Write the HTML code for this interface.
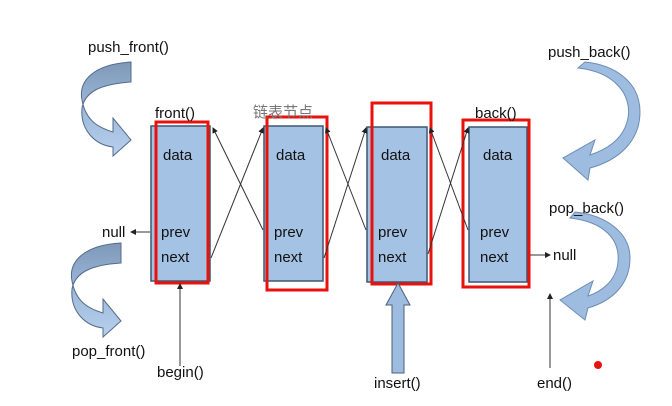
<!DOCTYPE html>
<html><head><meta charset="utf-8"><style>
html,body{margin:0;padding:0;background:#fff}
svg{display:block}
text{font-family:"Liberation Sans","Noto Sans CJK SC",sans-serif;fill:#111}
</style></head><body>
<svg width="672" height="406" viewBox="0 0 672 406">
<defs>
<linearGradient id="rib" x1="0" y1="0" x2="0" y2="1">
<stop offset="0" stop-color="#7f98b8"/><stop offset="0.5" stop-color="#9db8da"/><stop offset="1" stop-color="#b7d0ec"/>
</linearGradient>
<marker id="ah" markerWidth="6" markerHeight="6" refX="5" refY="3" orient="auto"><path d="M0,0 L6,3 L0,6 Z" fill="#222"/></marker>
</defs>

<g>
<path d="M131,62 C95,64 78,80 82,100 C86,122 100,128 113,132 L113,118 L131,140 L113,156 L113,147 C95,145 80,130 82,108 C85,92 100,84 131,82 Z" fill="url(#rib)" stroke="#556b8a" stroke-width="1"/>
</g>
<text x="88" y="52" font-size="15">push_front()</text>

<g transform="translate(-10,181)">
<path d="M131,62 C95,64 78,80 82,100 C86,122 100,128 113,132 L113,118 L131,140 L113,156 L113,147 C95,145 80,130 82,108 C85,92 100,84 131,82 Z" fill="url(#rib)" stroke="#556b8a" stroke-width="1"/>
</g>
<text x="72" y="356" font-size="15">pop_front()</text>

<g>
<path d="M578,68 C615,72 632,95 628,118 C624,140 605,150 590,155 L595,140 L563,158 L588,180 L590,168 C620,160 640,140 640,112 C640,82 615,65 585,62 Z" fill="#9dbcdf" stroke="#6d8db5" stroke-width="1"/>
</g>
<text x="548" y="57" font-size="15">push_back()</text>

<g>
<path d="M570,218 C605,222 620,240 618,262 C616,282 600,292 588,296 L593,281 L560,300 L585,320 L588,308 C615,300 630,282 630,258 C630,232 605,215 575,212 Z" fill="#9dbcdf" stroke="#6d8db5" stroke-width="1"/>
</g>
<text x="549" y="213" font-size="15">pop_back()</text>

<g>
<rect x="151" y="126" width="59" height="155" fill="#a4c2e4" stroke="#3e5673" stroke-width="1.5"/>
<rect x="156" y="122" width="52" height="161" fill="none" stroke="#e8120c" stroke-width="3"/>
<text x="163" y="160" font-size="15">data</text><text x="161" y="237" font-size="15">prev</text><text x="161" y="262" font-size="15">next</text>
</g>
<g>
<rect x="264" y="126" width="59" height="155" fill="#a4c2e4" stroke="#3e5673" stroke-width="1.5"/>
<rect x="267" y="117" width="60" height="173" fill="none" stroke="#e8120c" stroke-width="3"/>
<text x="276" y="160" font-size="15">data</text><text x="274" y="237" font-size="15">prev</text><text x="274" y="262" font-size="15">next</text>
</g>
<g>
<rect x="367" y="127" width="60" height="155" fill="#a4c2e4" stroke="#3e5673" stroke-width="1.5"/>
<rect x="372" y="103" width="59" height="181" fill="none" stroke="#e8120c" stroke-width="3"/>
<text x="381" y="160" font-size="15">data</text><text x="378" y="237" font-size="15">prev</text><text x="378" y="262" font-size="15">next</text>
</g>
<g>
<rect x="469" y="127" width="58" height="155" fill="#a4c2e4" stroke="#3e5673" stroke-width="1.5"/>
<rect x="463" y="120" width="66" height="167" fill="none" stroke="#e8120c" stroke-width="3"/>
<text x="483" y="160" font-size="15">data</text><text x="480" y="237" font-size="15">prev</text><text x="480" y="262" font-size="15">next</text>
</g>

<g stroke="#333" stroke-width="1" fill="none">
<line x1="211" y1="258" x2="263" y2="128" marker-end="url(#ah)"/>
<line x1="263" y1="230" x2="213" y2="128" marker-end="url(#ah)"/>
<line x1="324" y1="258" x2="366" y2="128" marker-end="url(#ah)"/>
<line x1="366" y1="230" x2="326" y2="128" marker-end="url(#ah)"/>
<line x1="428" y1="254" x2="468" y2="128" marker-end="url(#ah)"/>
<line x1="468" y1="230" x2="430" y2="128" marker-end="url(#ah)"/>
<line x1="150" y1="232" x2="131" y2="232" marker-end="url(#ah)"/>
<line x1="530" y1="255" x2="550" y2="255" marker-end="url(#ah)"/>
<line x1="180" y1="366" x2="180" y2="284" marker-end="url(#ah)"/>
<line x1="550" y1="368" x2="550" y2="294" marker-end="url(#ah)"/>
</g>

<text x="253" y="117" font-size="15" style="fill:#777">链表节点</text>
<text x="155" y="118" font-size="15">front()</text>
<text x="475" y="118" font-size="15">back()</text>
<text x="102" y="237" font-size="15">null</text>
<text x="553" y="260" font-size="15">null</text>
<text x="157" y="377" font-size="15">begin()</text>
<text x="374" y="388" font-size="15">insert()</text>
<text x="537" y="388" font-size="15">end()</text>

<path d="M398,283 L410,305 L404,305 L404,373 L392,373 L392,305 L386,305 Z" fill="#9dbcdf" stroke="#4a5f7a" stroke-width="1"/>
<circle cx="598" cy="365" r="4" fill="#e8120c"/>
</svg>
</body></html>
